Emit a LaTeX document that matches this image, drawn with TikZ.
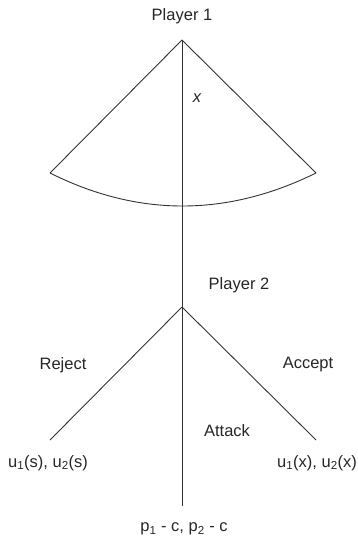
\documentclass[tikz,border=0pt]{standalone}
\usepackage{fontspec}
\setmainfont{Liberation Sans}
\begin{document}
\begin{tikzpicture}[x=1pt,y=-1pt,
  edge/.style={draw=black!80,line width=0.9pt},
  lbl/.style={font=\fontsize{16.5}{19}\selectfont,text=black!85,inner sep=0pt}]
\useasboundingbox (0,0) rectangle (358,541);
\coordinate (n1) at (182,40);
\coordinate (fl) at (50,173);
\coordinate (fr) at (316,173);
\coordinate (n2) at (182,307);
\coordinate (rl) at (50,440);
\coordinate (ar) at (316,440);
\coordinate (at) at (182,506);
\draw[edge,line join=round] (fl) -- (n1) -- (fr) .. controls (226.7,217) and (138,217) .. (fl);
\draw[edge] (n1) -- (n2);
\draw[edge] (n2) -- (rl);
\draw[edge] (n2) -- (ar);
\draw[edge] (n2) -- (at);
\node[lbl] (pl1) at (182,16) {Player 1};
\node[lbl] (xl) at (197,98) {\itshape x};
\node[lbl] (pl2) at (239,285) {Player 2};
\node[lbl] (rej) at (63,365) {Reject};
\node[lbl] (acc) at (308,365) {Accept};
\node[lbl] (att) at (227,431) {Attack};
\node[lbl] (us) at (48,463) {u\textsubscript{1}(s), u\textsubscript{2}(s)};
\node[lbl] (ux) at (317,463) {u\textsubscript{1}(x), u\textsubscript{2}(x)};
\node[lbl] (pc) at (184,529) {p\textsubscript{1} - c, p\textsubscript{2} - c};
\end{tikzpicture}
\end{document}
